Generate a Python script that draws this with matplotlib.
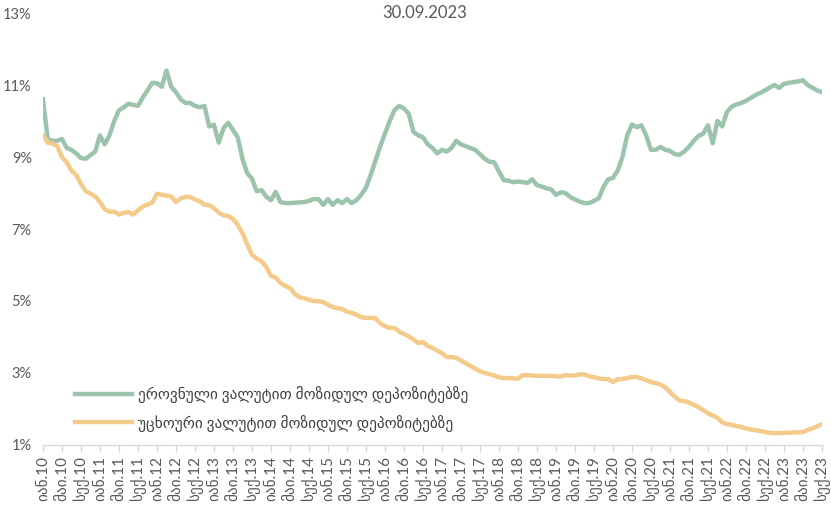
import numpy as np
import matplotlib
matplotlib.use('Agg')
import matplotlib.pyplot as plt

plt.rcParams['font.family'] = ['Lato', 'DejaVu Sans']

# Საპროცენტო განაკვეთები, თვიური მონაცემები (იანვარი 2010 - სექტემბერი 2023)
gel_rates = [
    10.6, 9.5, 9.45, 9.45, 9.5, 9.25, 9.2, 9.1, 8.97, 8.95,
    9.05, 9.15, 9.6, 9.35, 9.6, 10.0, 10.3, 10.38, 10.48, 10.45,
    10.42, 10.65, 10.85, 11.06, 11.05, 10.95, 11.4, 10.95, 10.8, 10.6,
    10.5, 10.5, 10.42, 10.38, 10.42, 9.85, 9.9, 9.4, 9.8, 9.95,
    9.75, 9.55, 8.95, 8.55, 8.4, 8.05, 8.08, 7.9, 7.8, 8.03,
    7.75, 7.72, 7.72, 7.73, 7.74, 7.75, 7.78, 7.83, 7.83, 7.67,
    7.83, 7.67, 7.8, 7.72, 7.83, 7.72, 7.8, 7.95, 8.15, 8.5,
    8.9, 9.3, 9.65, 10.0, 10.3, 10.42, 10.35, 10.2, 9.7, 9.6,
    9.55, 9.35, 9.25, 9.1, 9.2, 9.15, 9.25, 9.45, 9.35, 9.3,
    9.25, 9.2, 9.08, 8.95, 8.87, 8.85, 8.6, 8.36, 8.34, 8.3,
    8.32, 8.3, 8.28, 8.38, 8.22, 8.18, 8.13, 8.1, 7.95, 8.02,
    8.0, 7.89, 7.82, 7.76, 7.72, 7.72, 7.78, 7.85, 8.17, 8.38,
    8.42, 8.62, 9.0, 9.6, 9.9, 9.83, 9.88, 9.6, 9.2, 9.2,
    9.28, 9.2, 9.17, 9.08, 9.06, 9.15, 9.28, 9.45, 9.58, 9.65,
    9.88, 9.38, 10.0, 9.85, 10.25, 10.4, 10.46, 10.5, 10.56, 10.64,
    10.72, 10.78, 10.85, 10.93, 11.0, 10.92, 11.03, 11.06, 11.08, 11.1,
    11.13, 11.0, 10.92, 10.85, 10.8,
]
fx_rates = [
    9.6, 9.4, 9.37, 9.3, 9.0, 8.85, 8.62, 8.5, 8.25, 8.05,
    7.98, 7.9, 7.75, 7.55, 7.48, 7.48, 7.4, 7.45, 7.47, 7.4,
    7.52, 7.62, 7.68, 7.73, 7.98, 7.95, 7.93, 7.9, 7.75, 7.85,
    7.89, 7.89, 7.82, 7.77, 7.68, 7.66, 7.58, 7.45, 7.38, 7.36,
    7.28, 7.12, 6.88, 6.58, 6.28, 6.18, 6.1, 5.95, 5.7, 5.65,
    5.5, 5.42, 5.36, 5.2, 5.1, 5.08, 5.03, 5.0, 4.99, 4.97,
    4.9, 4.83, 4.8, 4.78, 4.7, 4.67, 4.62, 4.55, 4.53, 4.53,
    4.52, 4.38, 4.3, 4.25, 4.25, 4.15, 4.08, 4.02, 3.93, 3.83,
    3.86, 3.75, 3.7, 3.62, 3.55, 3.44, 3.44, 3.42, 3.35, 3.27,
    3.2, 3.12, 3.05, 3.0, 2.97, 2.93, 2.88, 2.86, 2.86, 2.85,
    2.84, 2.94, 2.94, 2.93, 2.92, 2.92, 2.92, 2.92, 2.91, 2.9,
    2.94, 2.93, 2.93, 2.96, 2.96, 2.91, 2.88, 2.85, 2.83, 2.83,
    2.75, 2.83, 2.83, 2.86, 2.89, 2.89, 2.85, 2.8, 2.75, 2.72,
    2.68, 2.6, 2.47, 2.35, 2.23, 2.22, 2.18, 2.12, 2.05, 1.97,
    1.88, 1.82, 1.75, 1.63, 1.58, 1.56, 1.53, 1.5, 1.46, 1.43,
    1.41, 1.39, 1.36, 1.34, 1.33, 1.33, 1.34, 1.34, 1.35, 1.35,
    1.36, 1.42, 1.46, 1.52, 1.58,
]

years = list(range(10, 24))
tick_months = ['იან', 'მაი', 'სექ']
series_names = ['ეროვნული ვალუტით მოზიდულ დეპოზიტებზე',
                'უცხოური ვალუტით მოზიდულ დეპოზიტებზე']
title = '30.09.2023'

green = '#9cc4ad'
orange = '#f4cb8b'
txt = '#595959'

x = np.arange(len(gel_rates))
tick_pos = np.arange(0, len(gel_rates), 4)
tick_labels = [f'{m}.{y}' for y in years for m in tick_months][:len(tick_pos)]

fig = plt.figure(figsize=(8.31, 5.16), dpi=100)
ax = fig.add_axes([0.0517, 0.1376, 0.9374, 0.8372])

ax.plot(x, gel_rates, color=green, lw=3.2, solid_joinstyle='round', label=series_names[0])
ax.plot(x, fx_rates, color=orange, lw=3.2, solid_joinstyle='round', label=series_names[1])

ax.set_xlim(0, len(gel_rates) - 1)
ax.set_ylim(1, 13)
ax.set_yticks(range(1, 14, 2))
ax.set_yticklabels([f'{v}%' for v in range(1, 14, 2)])
ax.set_xticks(tick_pos)
ax.set_xticklabels(tick_labels, rotation=90)

for s in ['top', 'right', 'left']:
    ax.spines[s].set_visible(False)
ax.spines['bottom'].set_color('#d9d9d9')
ax.spines['bottom'].set_linewidth(1.0)
ax.tick_params(axis='x', colors='#d9d9d9', length=5, width=1.0,
               labelcolor=txt, labelsize=11, pad=3)
ax.tick_params(axis='y', length=0, labelcolor=txt, labelsize=10.5, pad=8)

ax.text(0.49, 1.0, title, transform=ax.transAxes, ha='center', va='center',
        color=txt, fontsize=12)

ax.legend(loc='upper left', bbox_to_anchor=(0.041, 0.136), frameon=False,
          fontsize=11, handlelength=3.75, handletextpad=0.35, labelspacing=0.75,
          borderpad=0, borderaxespad=0, labelcolor='#404040')

fig.savefig('out.png', dpi=100)
